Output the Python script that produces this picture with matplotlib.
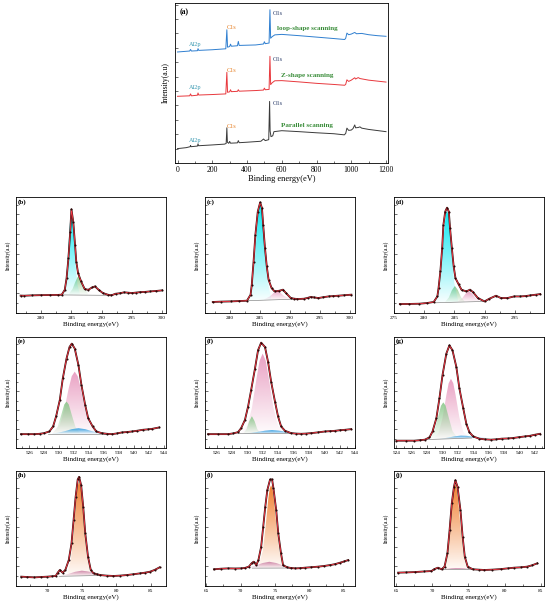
import numpy as np
import matplotlib
matplotlib.use('Agg')
import matplotlib.pyplot as plt
from matplotlib.ticker import MultipleLocator, NullFormatter
from matplotlib import colors as mcolors

plt.rcParams['font.family'] = ['Liberation Serif', 'DejaVu Serif']

# ---- (a) survey spectra ----
par_x = [0, 50, 73, 75, 78, 115, 118, 121, 200, 270, 280, 284, 287, 295, 300, 305, 345, 350, 355, 400,
         480, 495, 505, 525, 530, 533, 538, 548, 555, 600, 700, 800, 900, 960, 968, 975, 985, 1000, 1010,
         1020, 1025, 1040, 1050, 1060, 1100, 1150, 1200]
par_y = [9, 9.6, 10.2, 11, 10.2, 10.6, 12, 10.8, 11.3, 11.8, 12.2, 22, 13, 12.3, 13.5, 12.4, 12.6, 14, 12.7, 13,
         13.6, 15, 14, 14.6, 38.5, 20, 16.5, 17, 19.6, 20.2, 19.6, 18.9, 18.3, 17.6, 18.5, 21.8, 20.4, 20.6, 21.5,
         23.8, 22, 22.2, 22.6, 21.8, 21, 20.3, 19.6]
z_x = [0, 70, 75, 80, 115, 118, 122, 200, 278, 284, 288, 300, 305, 310, 345, 350, 355, 450, 495, 500, 505,
       527, 532, 536, 545, 560, 600, 700, 800, 900, 962, 968, 975, 985, 1000, 1020, 1025, 1040, 1050, 1100,
       1150, 1200]
z_y = [41.7, 42, 43.2, 42, 42.4, 43.8, 42.5, 42.8, 43.2, 56.7, 44.2, 44.5, 45.8, 44.6, 44.8, 45.8, 44.9, 45.3,
       45.6, 46.8, 45.8, 46, 66.7, 49, 50.2, 51.4, 51.5, 50.7, 49.8, 49.1, 48.6, 49.2, 52, 51, 51.8, 53.3,
       52.5, 53.4, 52.8, 51.8, 51.2, 50.6]
loop_x = [0, 70, 75, 80, 115, 118, 122, 200, 278, 284, 288, 300, 305, 310, 345, 350, 355, 450, 495, 500, 505,
          527, 532, 536, 545, 560, 600, 700, 800, 900, 962, 968, 975, 985, 1000, 1020, 1030, 1060, 1100,
          1150, 1200]
loop_y = [69.4, 70, 71, 70, 70.2, 71.5, 70.4, 70.8, 71.4, 83.3, 72.4, 72.8, 74.3, 73, 73.3, 76, 73.5, 73.8,
          74.4, 75.8, 74.6, 75, 95.8, 78, 79, 80.1, 80.4, 79.6, 78.7, 77.8, 77.2, 78, 81.2, 80.2, 80.6, 81.6,
          80.8, 81, 80.2, 79.6, 79.2]
scan_names = ['Parallel scanning', 'Z-shape scanning', 'loop-shape scanning']

# ---- (b)(c)(d) C1s ----
b_x = [276.6, 277.2, 278.5, 280, 281.5, 282.8, 283.4, 283.9, 284.2, 284.5, 284.8, 285.0, 285.3, 285.6, 285.8,
       286.1, 286.6, 287.2, 287.8, 288.4, 288.9, 289.5, 290.2, 291.0, 291.6, 292.3, 293.0, 293.7, 294.4,
       295.0, 295.7, 296.4, 297.2, 298.0, 299.0, 300.0]
b_y = [15, 14.9, 15.2, 15.4, 15.5, 15.6, 15.8, 20, 30, 47, 70, 89.4, 78.8, 58.7, 44.4, 34.4, 27.2, 20.6, 20,
       22, 22.9, 20, 17.2, 15.8, 15.2, 16.6, 17, 17.8, 17.5, 17.2, 17.6, 18, 18.2, 18.6, 19, 19.5]
b_bg_x = [283.0, 291.5]
b_bg_y = [15.6, 15.2]
b_c1_x = [283.6, 284.0, 284.3, 284.6, 284.8, 285.0, 285.2, 285.4, 285.7, 286.0, 286.4]
b_c1_y = [1.2, 8.9, 25.6, 51, 65.4, 71, 65.4, 51, 25.6, 8.9, 1.2]
b_c2_x = [284.6, 285.2, 285.6, 286.0, 286.2, 286.4, 286.8, 287.2, 287.8]
b_c2_y = [1, 5.4, 10.8, 15.3, 16, 15.3, 10.8, 5.4, 1]

c_x = [277.1, 278.5, 280.1, 281.5, 282.8, 283.4, 283.6, 283.9, 284.2, 284.6, 285.0, 285.3, 285.5, 285.8,
       286.1, 286.4, 286.9, 287.4, 288.2, 288.8, 289.3, 290.1, 290.6, 291.2, 292.3, 292.9, 293.4, 294.0,
       294.7, 295.5, 296.4, 297.2, 298.0, 299.0, 300.2]
c_y = [9.5, 9.8, 10, 10.3, 10.6, 15.8, 24.4, 44.4, 67.3, 87.4, 95.4, 90.3, 75.9, 55.9, 40.1, 28.7, 21.5,
       18.6, 19.2, 20.1, 17.2, 12.9, 12.4, 12, 12.3, 13, 13.8, 13.4, 12.9, 13.6, 14.3, 14.6, 14.9, 15.3, 15.8]
c_bg_x = [283.0, 291.0]
c_bg_y = [10.6, 12.0]
c_c1_x = [283.2, 283.8, 284.2, 284.6, 284.8, 285.0, 285.2, 285.4, 285.8, 286.2, 286.8]
c_c1_y = [2.5, 17.6, 42, 70.6, 80.6, 84, 80.6, 70.6, 42, 17.6, 2.5]
c_c2_x = [285.6, 286.6, 287.3, 287.8, 288.3, 289.0, 290.0]
c_c2_y = [0.5, 3, 6.2, 8, 6.2, 3, 0.5]

d_x = [276.0, 277.5, 279.2, 280.5, 281.6, 282.2, 282.4, 282.7, 283.0, 283.2, 283.5, 283.8, 284.1, 284.3,
       284.6, 284.9, 285.2, 285.7, 286.2, 287.0, 287.6, 288.1, 288.9, 290.0, 290.8, 291.9, 292.7, 293.8,
       294.9, 295.9, 296.8, 297.6, 298.5, 299.2]
d_y = [7.7, 7.8, 8, 8.6, 9.5, 14.3, 21.5, 35.8, 55.9, 75.9, 87.4, 90.8, 87.4, 73, 55.9, 40.1, 30, 24.9, 20,
       18.6, 20.1, 18, 12.9, 10, 12.3, 14.9, 12.9, 12.9, 14.3, 14.3, 14.6, 15.2, 15.8, 16.3]
d_bg_x = [281.8, 290.0]
d_bg_y = [8.8, 10.0]
d_c1_x = [282.0, 282.6, 283.0, 283.4, 283.6, 283.8, 284.0, 284.2, 284.6, 285.0, 285.6]
d_c1_y = [2.4, 16.6, 39.5, 66.4, 75.8, 79, 75.8, 66.4, 39.5, 16.6, 2.4]
d_c2_x = [283.5, 284.1, 284.6, 285.1, 285.6, 286.1, 286.7]
d_c2_y = [0.6, 4.2, 10.4, 14, 10.4, 4.2, 0.6]
d_c3_x = [285.6, 286.3, 286.9, 287.4, 287.9, 288.5, 289.2]
d_c3_y = [0.5, 3.2, 7.3, 9, 7.3, 3.2, 0.5]

# ---- (e)(f)(g) O1s ----
e_x = [524.9, 525.8, 526.7, 527.4, 528.0, 528.7, 529.2, 529.6, 530.1, 530.5, 531.0, 531.4, 531.7, 532.1,
       532.6, 533.0, 533.5, 533.9, 534.5, 535.0, 535.7, 536.4, 537.1, 537.8, 538.4, 539.1, 539.8, 540.5,
       541.2, 541.9, 542.5, 543.4]
e_y = [12.5, 12.5, 12.5, 12.8, 13.4, 14.9, 19.4, 28.4, 43.3, 62.7, 80.6, 91, 94, 89.6, 74.6, 56.7, 38.8,
       26.9, 19.4, 14.9, 13.4, 12.8, 12.5, 13.2, 14, 14.4, 14.9, 15.6, 16.4, 16.8, 17.3, 18.5]
e_bg_x = [528.5, 536.5]
e_bg_y = [12.8, 12.8]
e_c1_x = [529.1, 530.1, 530.7, 531.3, 531.7, 532.1, 532.5, 532.9, 533.5, 534.1, 535.1]
e_c1_y = [0.7, 8.2, 21.8, 41.2, 51.9, 56, 51.9, 41.2, 21.8, 8.2, 0.7]
e_c2_x = [529.2, 529.8, 530.3, 530.7, 531.0, 531.3, 531.7, 532.2, 532.8]
e_c2_y = [0.9, 6.1, 17.1, 26.4, 29, 26.4, 17.1, 6.1, 0.9]
e_c3_x = [529.0, 529.9, 530.8, 531.7, 532.6, 533.5, 534.4, 535.3, 536.2]
e_c3_y = [0.3, 1, 2.4, 4.2, 5, 4.2, 2.4, 1, 0.3]

f_x = [524.9, 526.2, 527.5, 528.2, 528.8, 529.2, 529.7, 530.1, 530.5, 531.0, 531.4, 531.8, 532.3, 532.7,
       533.1, 533.6, 534.0, 534.4, 534.9, 535.7, 536.3, 537.0, 537.6, 538.3, 539.2, 540.1, 540.8, 541.4,
       542.0, 542.7, 543.5]
f_y = [12.5, 12.5, 12.5, 13.2, 14.3, 17.9, 25.4, 37.3, 52.2, 71.6, 88.1, 94.9, 91, 77.6, 59.7, 41.8, 28.4,
       19.4, 15.5, 13.4, 13, 12.8, 13, 13.4, 14.1, 14.9, 15.2, 15.5, 16, 16.4, 17]
f_bg_x = [528.8, 535.7]
f_bg_y = [13.0, 13.2]
f_c1_x = [529.2, 530.0, 530.6, 531.2, 531.6, 532.0, 532.4, 532.8, 533.4, 534.0, 534.8]
f_c1_y = [0.8, 7.1, 23, 49.7, 65.5, 72, 65.5, 49.7, 23, 7.1, 0.8]
f_c2_x = [529.5, 529.9, 530.25, 530.6, 530.95, 531.3, 531.7]
f_c2_y = [0.5, 3.9, 11.1, 15.6, 11.1, 3.9, 0.5]
f_c3_x = [529.6, 530.5, 531.4, 532.3, 533.2, 534.1, 535.0, 535.9, 536.8]
f_c3_y = [0.2, 0.6, 1.5, 2.5, 3, 2.5, 1.5, 0.6, 0.2]

g_x = [524.0, 525.2, 526.3, 527.0, 527.7, 528.3, 528.7, 529.2, 529.6, 530.0, 530.5, 530.9, 531.3, 531.8,
       532.2, 532.7, 533.1, 533.5, 534.0, 534.8, 535.5, 536.3, 537.0, 537.7, 538.5, 539.2, 540.0, 540.7,
       541.4, 542.0, 542.7]
g_y = [6.6, 6.6, 6.6, 7, 7.5, 9.6, 14.9, 26.9, 44.8, 65.7, 85.1, 92.5, 88, 73.1, 53.7, 35.8, 22, 14.3, 10.4,
       8.4, 7.8, 7.5, 7.8, 8.4, 8.6, 9, 9.8, 10.4, 11, 11.9, 12.8]
g_bg_x = [528.0, 533.8]
g_bg_y = [7.6, 9.0]
g_c1_x = [528.8, 529.5, 530.0, 530.5, 530.8, 531.1, 531.4, 531.7, 532.2, 532.7, 533.4]
g_c1_y = [0.5, 5.9, 18.9, 39.4, 50, 54, 50, 39.4, 18.9, 5.9, 0.5]
g_c2_x = [528.3, 528.9, 529.4, 529.8, 530.1, 530.4, 530.8, 531.3, 531.9]
g_c2_y = [1, 6.9, 19.5, 30, 33, 30, 19.5, 6.9, 1]
g_c3_x = [529.2, 530.0, 530.8, 531.6, 532.4, 533.2, 534.0, 534.8, 535.6]
g_c3_y = [0.1, 0.5, 1.2, 2.1, 2.5, 2.1, 1.2, 0.5, 0.1]

# ---- (h)(i)(j) Al2p ----
h_x = [66.2, 67.1, 68.1, 69.0, 70.0, 70.6, 71.2, 71.5, 71.8, 72.2, 72.6, 73.1, 73.5, 73.8, 74.1, 74.4, 74.6,
       74.9, 75.2, 75.5, 75.9, 76.3, 76.7, 77.2, 77.7, 78.6, 79.6, 80.5, 81.5, 82.5, 83.5, 84.2, 84.9,
       85.6, 86.3]
h_y = [8.1, 7.8, 7.5, 7.8, 8.1, 8.4, 8.7, 11.6, 13.9, 11.6, 13.9, 22.5, 37, 57.2, 77.5, 92.5, 94.8, 87.6,
       68.8, 45.7, 25.4, 13.9, 11, 10.2, 9.5, 9, 8.7, 9, 9.5, 10.2, 11, 11.6, 12.4, 14, 16.2]
h_bg_x = [71.7, 77.8]
h_bg_y = [8.4, 9.2]
h_c1_x = [72.9, 73.4, 73.8, 74.2, 74.4, 74.6, 74.8, 75.0, 75.4, 75.8, 76.3]
h_c1_y = [2.5, 14.2, 37.6, 67.5, 78, 82, 78, 67.5, 37.6, 14.2, 2.5]
h_c2_x = [72.0, 73.0, 74.0, 75.0, 76.0, 77.0, 78.0]
h_c2_y = [0.6, 1.8, 3.6, 4.5, 3.6, 1.8, 0.6]

i_x = [66.1, 67.1, 68.2, 69.2, 70.1, 70.7, 71.2, 71.6, 71.9, 72.3, 72.6, 73.0, 73.3, 73.6, 73.9, 74.3,
       74.6, 74.8, 75.2, 75.5, 75.9, 76.2, 76.8, 77.4, 78.0, 78.7, 79.4, 80.3, 81.3, 82.2, 83.1, 83.8,
       84.5, 85.1, 85.7]
i_y = [14.5, 15, 15.3, 15.2, 15.3, 15.8, 16.8, 19.7, 21.1, 18.2, 22.5, 34.1, 51.4, 68.8, 83.2, 92.5, 92.5,
       84.7, 65.9, 45.7, 28.3, 18.2, 16.2, 15.6, 15.3, 15.5, 15.9, 16.3, 16.8, 17.4, 18.2, 19, 20.2, 21.3,
       22.5]
i_bg_x = [71.7, 77.5]
i_bg_y = [15.5, 15.6]
i_c1_x = [72.65, 73.25, 73.65, 74.05, 74.25, 74.45, 74.65, 74.85, 75.25, 75.65, 76.25]
i_c1_y = [2.2, 15.1, 36, 60.5, 69, 72, 69, 60.5, 36, 15.1, 2.2]
i_c2_x = [71.2, 72.2, 73.2, 74.2, 75.2, 76.2, 77.2]
i_c2_y = [0.7, 2.3, 4.4, 5.5, 4.4, 2.3, 0.7]

j_x = [65.3, 66.4, 67.6, 68.8, 69.9, 70.3, 70.8, 71.3, 71.7, 72.1, 72.4, 72.7, 73.0, 73.2, 73.5, 73.9, 74.2,
       74.5, 74.9, 75.6, 76.4, 77.2, 78.3, 79.5, 80.4, 81.3, 82.2, 83.1, 83.8, 84.5]
j_y = [11.6, 11.8, 12.1, 12.6, 13, 14.7, 15.9, 14.5, 16.8, 28.3, 48.6, 71.7, 86.1, 91.9, 86.1, 65.9, 42.8,
       25.4, 16.8, 14.5, 14.2, 13.9, 14.2, 14.7, 15.3, 15.9, 16.2, 16.8, 18, 19.7]
j_bg_x = [71.2, 76.5]
j_bg_y = [14.2, 14.3]
j_c1_x = [71.6, 72.1, 72.5, 72.85, 73.05, 73.2, 73.35, 73.55, 73.9, 74.3, 74.8]
j_c1_y = [2.1, 13.8, 37.4, 62.5, 71.7, 74, 71.7, 62.5, 37.4, 13.8, 2.1]
j_c2_x = [71.1, 71.9, 72.7, 73.5, 74.3, 75.1, 75.9]
j_c2_y = [0.2, 0.6, 1.2, 1.5, 1.2, 0.6, 0.2]

CYAN, GREEN, PINK, BLUE, ORANGE, MAUVE = '#00e6f0', '#8cc88c', '#e89cc0', '#2a9be0', '#f07a28', '#c878a0'


def grad_fill(ax, cx, ch, bgx, bgy, color):
    cx = np.asarray(cx, float)
    base = np.interp(cx, bgx, bgy)
    top = base + np.asarray(ch, float)
    poly = ax.fill_between(cx, base, top, facecolor='none', edgecolor='none')
    rgb = mcolors.to_rgb(color)
    img = np.empty((64, 1, 4))
    img[..., :3] = rgb
    img[..., 3] = np.linspace(0.03, 0.95, 64).reshape(-1, 1)
    im = ax.imshow(img, extent=[cx.min(), cx.max(), base.min(), top.max()], origin='lower',
                   aspect='auto', interpolation='bilinear', zorder=1)
    im.set_clip_path(poly.get_paths()[0], transform=ax.transData)


def style(ax, fs):
    for s in ax.spines.values():
        s.set_linewidth(0.6)
    ax.tick_params(which='both', direction='in', top=False, right=False, width=0.4, labelsize=fs, pad=2)
    ax.tick_params(which='major', length=2.2)
    ax.tick_params(which='minor', length=1.2)
    ax.yaxis.set_major_formatter(NullFormatter())


fig = plt.figure(figsize=(5.5, 6.06), dpi=100)

# survey panel
ax = fig.add_axes([0.318, 0.731, 0.387, 0.264])
ax.plot(par_x, par_y, color='#3a3a3a', lw=0.7)
ax.plot(z_x, z_y, color='#e8383d', lw=0.7)
ax.plot(loop_x, loop_y, color='#2f7fd0', lw=0.7)
for base_al, base_c, base_o, name, ys in [(14.2, 22.9, 37, scan_names[0], 23.3),
                                          (47.5, 57.7, 65, scan_names[1], 54.8),
                                          (74, 84.4, 93.3, scan_names[2], 84)]:
    ax.text(100, base_al, 'Al2p', color='#3b9ab2', fontsize=4.5, ha='center', va='center')
    ax.text(313, base_c, 'C1s', color='#e67e22', fontsize=4.5, ha='center', va='center')
    ax.text(548, base_o, 'O1s', color='#2c3e6b', fontsize=4.5, ha='left', va='center')
    ax.text(745, ys, name, color='#3a8d3a', fontsize=5, fontweight='bold', ha='center', va='center')
ax.text(0.02, 0.97, '(a)', transform=ax.transAxes, fontsize=5.5, fontweight='bold', va='top')
ax.set_xlim(-15, 1210)
ax.set_ylim(0, 100)
ax.xaxis.set_major_locator(MultipleLocator(200))
ax.xaxis.set_minor_locator(MultipleLocator(100))
ax.yaxis.set_major_locator(MultipleLocator(9))
style(ax, 5.5)
ax.set_xlabel('Binding energy(eV)', fontsize=6, labelpad=1)
ax.set_ylabel('Intensity(a.u)', fontsize=5.5, labelpad=2)

panels = [
    ('(b)', b_x, b_y, b_bg_x, b_bg_y, [(b_c2_x, b_c2_y, GREEN), (b_c1_x, b_c1_y, CYAN)], (275.8, 300.6), 5),
    ('(c)', c_x, c_y, c_bg_x, c_bg_y, [(c_c2_x, c_c2_y, PINK), (c_c1_x, c_c1_y, CYAN)], (275.8, 300.8), 5),
    ('(d)', d_x, d_y, d_bg_x, d_bg_y, [(d_c3_x, d_c3_y, PINK), (d_c2_x, d_c2_y, GREEN), (d_c1_x, d_c1_y, CYAN)],
     (275.0, 299.8), 5),
    ('(e)', e_x, e_y, e_bg_x, e_bg_y, [(e_c1_x, e_c1_y, PINK), (e_c2_x, e_c2_y, GREEN), (e_c3_x, e_c3_y, BLUE)],
     (524.2, 544.3), 2),
    ('(f)', f_x, f_y, f_bg_x, f_bg_y, [(f_c1_x, f_c1_y, PINK), (f_c2_x, f_c2_y, GREEN), (f_c3_x, f_c3_y, BLUE)],
     (524.5, 544.0), 2),
    ('(g)', g_x, g_y, g_bg_x, g_bg_y, [(g_c1_x, g_c1_y, PINK), (g_c2_x, g_c2_y, GREEN), (g_c3_x, g_c3_y, BLUE)],
     (523.65, 543.2), 2),
    ('(h)', h_x, h_y, h_bg_x, h_bg_y, [(h_c1_x, h_c1_y, ORANGE), (h_c2_x, h_c2_y, MAUVE)], (65.4, 87.2), 5),
    ('(i)', i_x, i_y, i_bg_x, i_bg_y, [(i_c1_x, i_c1_y, ORANGE), (i_c2_x, i_c2_y, MAUVE)], (64.8, 86.7), 5),
    ('(j)', j_x, j_y, j_bg_x, j_bg_y, [(j_c1_x, j_c1_y, ORANGE), (j_c2_x, j_c2_y, MAUVE)], (64.7, 85.4), 5),
]
rows = [(0.4835, 0.1914), (0.2607, 0.1832), (0.033, 0.19)]
cols = [0.0287, 0.3727, 0.716]

for k, (lab, x, y, bgx, bgy, comps, xlim, step) in enumerate(panels):
    y0, h = rows[k // 3]
    ax = fig.add_axes([cols[k % 3], y0, 0.2727, h])
    for cx, ch, col in comps:
        grad_fill(ax, cx, ch, bgx, bgy, col)
    ax.plot(bgx, bgy, color='#8a8a8a', lw=0.5, zorder=2)
    ax.plot(x, y, color='#2a0808', lw=1.3, zorder=3)
    ax.plot(x, y, color='#ff3a48', lw=0.6, zorder=4)
    ax.plot(x, y, ls='none', marker='o', ms=1.5, mew=0, color='#2a0808', zorder=5)
    ax.set_xlim(xlim)
    ax.set_ylim(0, 100)
    ax.xaxis.set_major_locator(MultipleLocator(step))
    ax.xaxis.set_minor_locator(MultipleLocator(step / 2))
    ax.yaxis.set_major_locator(MultipleLocator(17))
    ax.yaxis.set_minor_locator(MultipleLocator(8.5))
    style(ax, 3.8)
    ax.text(0.015, 0.985, lab, transform=ax.transAxes, fontsize=5, fontweight='bold', va='top')
    ax.set_xlabel('Binding energy(eV)', fontsize=5, labelpad=1)
    ax.set_ylabel('Intensity(a.u)', fontsize=4, labelpad=1.5)

fig.savefig('out.png', dpi=100)
